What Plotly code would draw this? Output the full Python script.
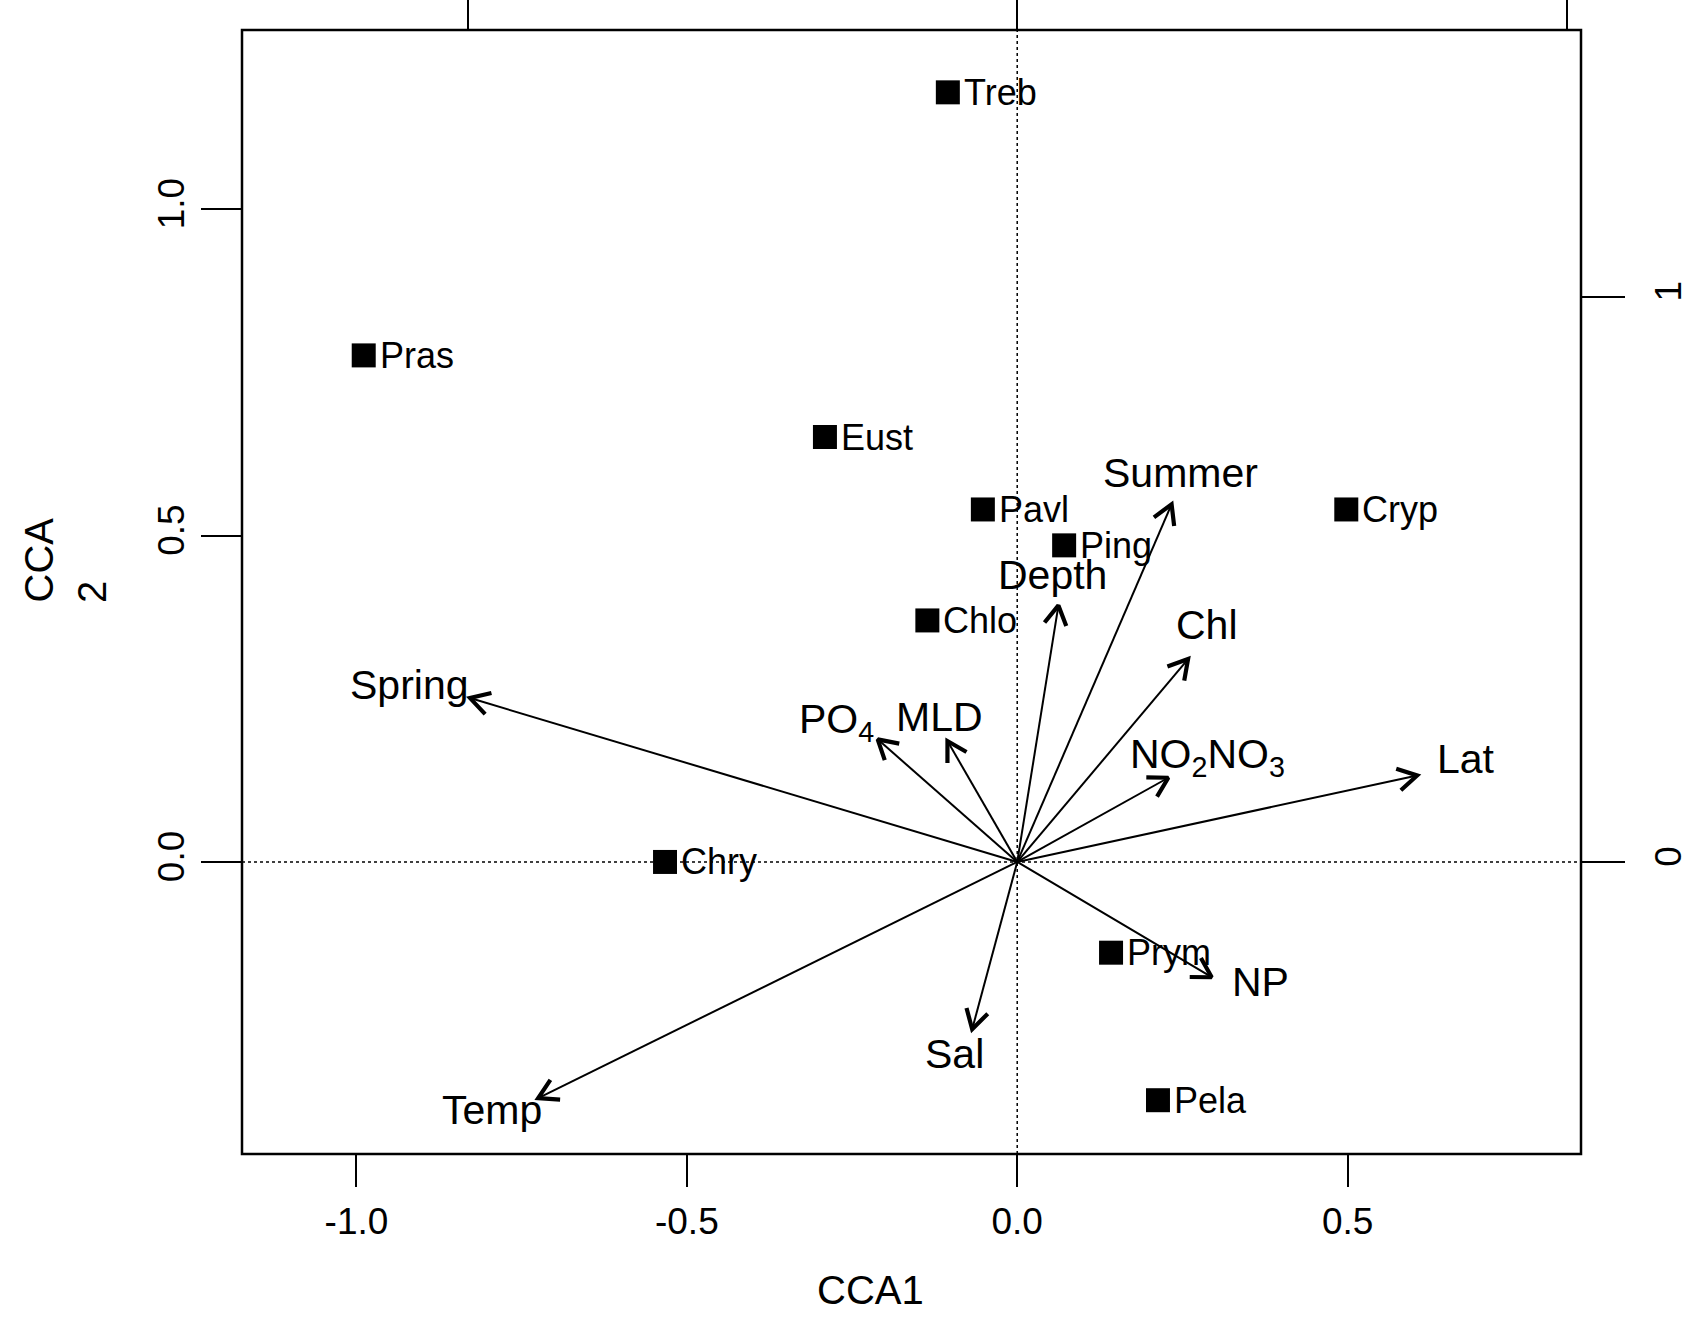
import math
import plotly.graph_objects as go

# ---------------- data ----------------
species = ["Treb", "Pras", "Eust", "Pavl", "Ping", "Cryp", "Chlo", "Chry", "Prym", "Pela"]
species_cca1 = [-0.105, -0.989, -0.291, -0.052, 0.071, 0.498, -0.136, -0.533, 0.142, 0.213]
species_cca2 = [1.179, 0.776, 0.651, 0.540, 0.485, 0.540, 0.370, 0.000, -0.139, -0.365]

env_vars = ["Spring", "Temp", "PO<sub>4</sub>", "MLD", "Depth", "Summer", "Chl",
            "NO<sub>2</sub>NO<sub>3</sub>", "Lat", "NP", "Sal"]
env_cca1 = [-0.996, -0.872, -0.254, -0.127, 0.075, 0.281, 0.311, 0.275, 0.728, 0.354, -0.082]
env_cca2 = [0.290, -0.418, 0.217, 0.214, 0.454, 0.633, 0.359, 0.149, 0.153, -0.204, -0.296]
# label anchor points for the biplot arrows (same units as arrows)
env_label_x = [-1.107, -0.956, -0.329, -0.142, 0.065, 0.297, 0.346, 0.346, 0.817, 0.442, -0.115]
env_label_y = [0.313, -0.439, 0.248, 0.256, 0.507, 0.688, 0.420, 0.185, 0.183, -0.212, -0.339]

x_ticks = [-1.0, -0.5, 0.0, 0.5]
y_ticks = [0.0, 0.5, 1.0]
x2_ticks = [-1, 0, 1]
y2_ticks = [0, 1]

# ---------------- layout geometry ----------------
W, H = 1689, 1323
ML, MR, MT, MB = 242, 108, 30, 169
PW, PH = W - ML - MR, H - MT - MB
x_range = [-1.1732, 0.8532]
y_range = [-0.4474, 1.2745]
x2_range = [-1.4111, 1.0262]
y2_range = [-0.5168, 1.4722]
FONT = "Liberation Sans, Arial, Helvetica, sans-serif"

sx2 = PW / (x2_range[1] - x2_range[0])
sy2 = PH / (y2_range[1] - y2_range[0])

fig = go.Figure()

# arrow shafts and open arrow heads
shaft_x, shaft_y = [], []
head_x, head_y = [], []
HEAD_LEN, HEAD_ANG = 22.0, math.radians(30)
for tx, ty in zip(env_cca1, env_cca2):
    shaft_x += [0, tx, None]
    shaft_y += [0, ty, None]
    px, py = tx * sx2, ty * sy2
    L = math.hypot(px, py)
    bx, by = -px / L, -py / L
    pts = []
    for s in (1, -1):
        a = s * HEAD_ANG
        rx = bx * math.cos(a) - by * math.sin(a)
        ry = bx * math.sin(a) + by * math.cos(a)
        pts.append((tx + rx * HEAD_LEN / sx2, ty + ry * HEAD_LEN / sy2))
    head_x += [pts[0][0], tx, pts[1][0], None]
    head_y += [pts[0][1], ty, pts[1][1], None]

fig.add_trace(go.Scatter(x=shaft_x, y=shaft_y, mode="lines", xaxis="x2", yaxis="y2",
                         line=dict(color="black", width=2), hoverinfo="skip", showlegend=False))
fig.add_trace(go.Scatter(x=head_x, y=head_y, mode="lines", xaxis="x2", yaxis="y2",
                         line=dict(color="black", width=4.2), hoverinfo="skip", showlegend=False))

# species points
fig.add_trace(go.Scatter(x=species_cca1, y=species_cca2, mode="markers",
                         marker=dict(symbol="square", size=24, color="black", line=dict(width=0)),
                         hoverinfo="skip", showlegend=False))

annotations = []
for name, x, y in zip(species, species_cca1, species_cca2):
    annotations.append(dict(x=x, y=y, xref="x", yref="y", text=name, showarrow=False,
                            xanchor="left", yanchor="middle", xshift=14,
                            font=dict(family=FONT, size=36, color="black")))
for name, x, y in zip(env_vars, env_label_x, env_label_y):
    annotations.append(dict(x=x, y=y, xref="x2", yref="y2", text=name, showarrow=False,
                            xanchor="center", yanchor="middle",
                            font=dict(family=FONT, size=41, color="black")))
# axis titles
annotations.append(dict(x=(870 - ML) / PW, y=(MT + PH - 1290) / PH, xref="paper", yref="paper",
                        text="CCA1", showarrow=False, xanchor="center", yanchor="middle",
                        font=dict(family=FONT, size=40, color="black")))
annotations.append(dict(x=(38 - ML) / PW, y=(MT + PH - 605) / PH, xref="paper", yref="paper",
                        text="CCA", showarrow=False, textangle=-90, xanchor="center", yanchor="bottom",
                        font=dict(family=FONT, size=40, color="black")))
annotations.append(dict(x=(92 - ML) / PW, y=(MT + PH - 605) / PH, xref="paper", yref="paper",
                        text="2", showarrow=False, textangle=-90, xanchor="center", yanchor="bottom",
                        font=dict(family=FONT, size=40, color="black")))

shapes = [
    dict(type="line", xref="x", yref="paper", x0=0, x1=0, y0=0, y1=1,
         line=dict(color="black", width=1.5, dash="dot"), layer="below"),
    dict(type="line", xref="paper", yref="y", x0=0, x1=1, y0=0, y1=0,
         line=dict(color="black", width=1.5, dash="dot"), layer="below"),
    dict(type="rect", xref="paper", yref="paper", x0=0, x1=1, y0=0, y1=1,
         line=dict(color="black", width=2.5)),
]

tickfont = dict(family=FONT, size=37, color="black")
common = dict(showgrid=False, zeroline=False, showline=False, ticks="outside",
              tickcolor="black", tickwidth=2, automargin=False, tickfont=tickfont)

fig.update_layout(
    template="none",
    width=W, height=H,
    margin=dict(l=ML, r=MR, t=MT, b=MB),
    paper_bgcolor="white", plot_bgcolor="white",
    showlegend=False, hovermode=False,
    xaxis=dict(range=x_range, tickvals=x_ticks, ticktext=[f"{v:.1f}" for v in x_ticks],
               ticklen=32, ticklabelstandoff=3, **common),
    yaxis=dict(range=y_range, tickvals=y_ticks, ticktext=[f"{v:.1f}" for v in y_ticks],
               ticklen=40, tickangle=-90, ticklabelstandoff=2, **common),
    xaxis2=dict(range=x2_range, overlaying="x", side="top", anchor="y",
                tickvals=x2_ticks, showticklabels=False, ticklen=34, **common),
    yaxis2=dict(range=y2_range, overlaying="y", side="right", anchor="x",
                tickvals=y2_ticks, ticktext=[str(v) for v in y2_ticks],
                ticklen=43, tickangle=-90, ticklabelstandoff=12, **common),
    annotations=annotations,
    shapes=shapes,
)

# remove the browser's default page margin so the figure sits at the window's corner
fig.write_html("out.html", config={"displayModeBar": False},
               post_script="document.body.style.margin='0px';")
